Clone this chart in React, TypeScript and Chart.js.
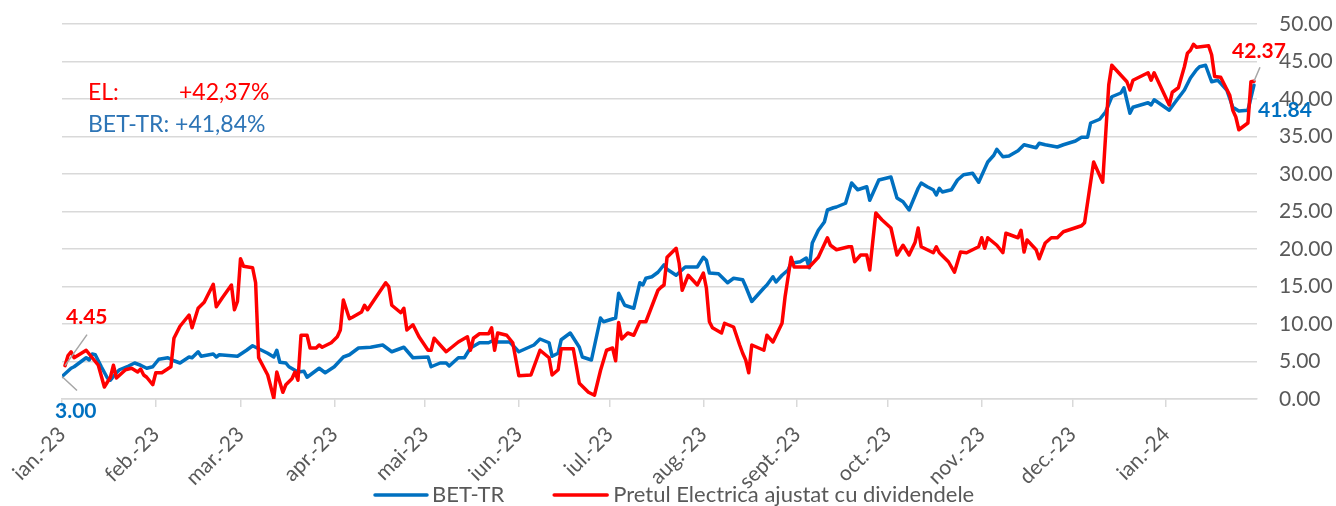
import React, { useEffect, useRef } from "react";
import { Chart, registerables } from "chart.js";

Chart.register(...registerables);

// x values are days since 1 Jan 2023
const monthLabels = ["ian.-23", "feb.-23", "mar.-23", "apr.-23", "mai-23", "iun.-23", "iul.-23", "aug.-23", "sept.-23", "oct.-23", "nov.-23", "dec.-23", "ian.-24"];
const monthStartDays = [0, 31, 59, 90, 120, 151, 181, 212, 243, 273, 304, 334, 365];
const axisEndDay = 395;
const yTickValues = [0, 5, 10, 15, 20, 25, 30, 35, 40, 45, 50];

const betDays = [0, 3, 4, 6, 8, 9, 10, 11, 13, 15, 16, 18, 19, 22, 24, 26, 28, 30, 32, 35, 37, 39, 42, 43, 45, 46, 50, 51, 52, 58, 61, 63, 65, 66, 68, 70, 71, 72, 74, 75, 78, 80, 81, 83, 85, 87, 90, 93, 95, 98, 102, 106, 109, 113, 116, 121, 122, 125, 127, 128, 131, 133, 135, 138, 141, 143, 144, 148, 151, 156, 158, 161, 162, 164, 165, 168, 171, 172, 175, 178, 179, 183, 184, 186, 189, 191, 192, 193, 195, 197, 199, 200, 203, 206, 210, 212, 213, 214, 217, 220, 222, 225, 226, 228, 232, 233, 235, 236, 238, 240, 241, 244, 246, 247, 248, 250, 252, 253, 255, 256, 259, 261, 263, 266, 267, 270, 274, 276, 278, 280, 283, 284, 286, 288, 289, 290, 291, 294, 296, 298, 301, 303, 306, 308, 309, 311, 313, 316, 317, 318, 322, 323, 325, 329, 331, 335, 337, 339, 340, 343, 345, 347, 350, 351, 353, 354, 359, 360, 361, 366, 368, 371, 373, 375, 376, 378, 380, 382, 383, 385, 387, 389, 392, 394];
const betValues = [3.0, 4.1, 4.3, 4.9, 5.5, 5.2, 6.0, 5.9, 4.3, 2.8, 2.5, 3.5, 3.9, 4.4, 4.8, 4.5, 4.1, 4.3, 5.3, 5.5, 5.1, 4.8, 5.6, 5.5, 6.3, 5.7, 6.0, 5.6, 5.9, 5.7, 6.5, 7.1, 6.7, 6.5, 6.1, 5.6, 6.5, 4.9, 4.8, 4.3, 3.6, 3.7, 2.9, 3.5, 4.1, 3.5, 4.3, 5.6, 5.9, 6.8, 6.9, 7.2, 6.3, 6.9, 5.5, 5.6, 4.3, 4.8, 4.8, 4.4, 5.5, 5.5, 6.8, 7.5, 7.5, 7.9, 7.6, 7.6, 6.3, 7.2, 8.0, 7.5, 5.7, 6.1, 7.9, 8.8, 6.9, 5.6, 5.2, 10.8, 10.3, 10.8, 14.1, 12.5, 12.1, 15.5, 15.2, 16.1, 16.3, 16.9, 17.9, 17.3, 16.5, 17.6, 17.6, 18.9, 18.5, 16.8, 16.7, 15.5, 16.1, 15.9, 15.0, 13.0, 14.8, 15.2, 16.3, 15.6, 16.5, 17.2, 18.1, 18.3, 18.8, 17.5, 20.8, 22.5, 23.6, 25.2, 25.5, 25.6, 26.1, 28.8, 27.9, 28.3, 26.5, 29.2, 29.6, 26.8, 26.3, 25.2, 28.1, 28.8, 28.3, 27.9, 27.2, 28.1, 27.6, 27.9, 29.2, 29.9, 30.1, 28.9, 31.6, 32.5, 33.3, 32.3, 32.4, 33.1, 33.5, 33.9, 33.5, 34.1, 33.9, 33.6, 33.9, 34.4, 34.9, 34.9, 36.8, 37.3, 38.3, 40.3, 40.8, 41.5, 38.1, 38.9, 39.5, 39.2, 39.9, 38.5, 39.6, 41.2, 42.8, 43.9, 44.3, 44.5, 42.3, 42.5, 42.1, 41.2, 38.9, 38.4, 38.5, 41.84];

const elDays = [1, 2, 3, 4, 8, 10, 12, 14, 16, 17, 18, 21, 23, 25, 26, 27, 28, 30, 31, 33, 36, 37, 39, 42, 43, 45, 47, 50, 51, 53, 56, 57, 58, 59, 60, 63, 64, 65, 68, 70, 71, 73, 74, 76, 77, 78, 79, 81, 82, 84, 85, 86, 89, 91, 92, 93, 95, 96, 99, 100, 101, 107, 108, 109, 112, 113, 114, 116, 118, 121, 122, 123, 127, 131, 134, 135, 136, 138, 141, 142, 143, 144, 147, 149, 151, 155, 158, 161, 162, 164, 165, 169, 171, 174, 176, 178, 180, 182, 183, 184, 185, 187, 189, 191, 193, 197, 198, 199, 200, 203, 204, 205, 207, 210, 212, 213, 214, 215, 218, 219, 222, 224, 225, 226, 227, 228, 232, 233, 235, 238, 239, 241, 242, 247, 250, 253, 254, 256, 260, 261, 262, 264, 266, 267, 269, 271, 274, 276, 278, 280, 282, 283, 284, 288, 289, 290, 293, 295, 297, 299, 303, 304, 305, 306, 309, 311, 312, 316, 317, 318, 319, 322, 323, 325, 327, 329, 331, 337, 338, 341, 344, 346, 347, 352, 353, 354, 359, 360, 361, 366, 367, 369, 371, 372, 373, 374, 375, 379, 380, 381, 383, 386, 387, 388, 389, 392, 393, 394];
const elValues = [4.45, 5.8, 6.3, 5.5, 6.5, 5.5, 4.5, 1.6, 2.9, 4.5, 2.8, 3.9, 4.1, 3.6, 4.0, 3.2, 2.9, 1.9, 3.5, 3.5, 4.3, 8.1, 9.7, 11.2, 9.5, 12.1, 12.9, 15.3, 12.3, 13.5, 15.2, 11.9, 13.0, 18.7, 17.7, 17.5, 15.5, 5.5, 3.2, 0.1, 3.6, 0.9, 1.9, 2.7, 3.6, 2.5, 8.5, 8.5, 6.8, 6.8, 7.2, 6.9, 7.5, 8.3, 9.2, 13.2, 10.7, 10.9, 11.6, 12.5, 11.9, 15.5, 15.0, 12.5, 11.5, 12.1, 9.2, 9.9, 8.3, 6.5, 6.5, 8.1, 6.3, 7.6, 8.3, 6.5, 8.1, 8.7, 8.7, 9.5, 6.5, 8.8, 8.5, 7.5, 3.1, 3.2, 6.5, 5.5, 3.2, 3.9, 6.7, 6.7, 2.1, 0.9, 0.5, 3.8, 6.5, 6.8, 5.1, 10.2, 8.0, 8.8, 8.5, 10.3, 10.3, 14.5, 14.9, 15.2, 18.9, 20.1, 18.1, 14.5, 16.5, 15.2, 16.8, 14.8, 10.3, 9.5, 8.8, 10.1, 9.6, 7.2, 6.1, 5.2, 3.5, 7.2, 6.5, 8.5, 7.6, 10.1, 13.6, 18.9, 17.6, 17.6, 18.9, 21.5, 20.5, 19.9, 20.3, 20.3, 18.3, 19.2, 19.2, 17.2, 24.8, 23.9, 22.8, 19.2, 20.5, 19.2, 20.9, 22.8, 20.3, 19.5, 20.3, 19.5, 18.3, 16.9, 19.6, 19.5, 20.3, 21.5, 20.1, 21.5, 20.5, 19.5, 22.1, 21.5, 22.5, 19.6, 21.2, 19.9, 18.7, 20.8, 21.5, 21.5, 22.3, 23.1, 23.5, 31.6, 28.9, 41.9, 44.5, 42.3, 41.2, 42.5, 43.5, 42.5, 43.5, 39.2, 40.9, 41.5, 44.3, 46.1, 46.5, 47.3, 46.9, 47.1, 45.9, 43.0, 42.9, 40.5, 38.5, 37.6, 35.9, 36.8, 42.3, 42.37];

const betLabel = "BET-TR";
const elLabel = "Pretul Electrica ajustat cu dividendele";
const elChangeText = "+42,37%";
const betChangeText = "+41,84%";

const BLUE = "#0070C0";
const RED = "#FF0000";
const GREY_TEXT = "#595959";
const GRID = "#D9D9D9";
const FONT = "Lato, 'Open Sans', sans-serif";

const overlayPlugin = {
  id: "overlay",
  afterDatasetsDraw(chart: any) {
    const { ctx, scales } = chart;
    const xs = scales.x;
    const ys = scales.y;
    ctx.save();

    const elStartX = xs.getPixelForValue(elDays[0]);
    const elStartY = ys.getPixelForValue(elValues[0]);
    const betStartX = xs.getPixelForValue(betDays[0]);
    const betStartY = ys.getPixelForValue(betValues[0]);
    const elEndX = xs.getPixelForValue(elDays[elDays.length - 1]);
    const elEndY = ys.getPixelForValue(elValues[elValues.length - 1]);
    const betEndX = xs.getPixelForValue(betDays[betDays.length - 1]);
    const betEndY = ys.getPixelForValue(betValues[betValues.length - 1]);

    // leader lines
    ctx.strokeStyle = "#A6A6A6";
    ctx.lineWidth = 1.5;
    ctx.beginPath();
    ctx.moveTo(elStartX, elStartY);
    ctx.lineTo(elStartX + 22, elStartY - 31);
    ctx.moveTo(betStartX, betStartY);
    ctx.lineTo(betStartX + 15, betStartY + 14);
    ctx.moveTo(elEndX, elEndY);
    ctx.lineTo(elEndX + 6, elEndY - 14);
    ctx.stroke();

    // value labels
    ctx.font = `bold 21px ${FONT}`;
    ctx.textBaseline = "middle";
    ctx.textAlign = "left";
    ctx.fillStyle = RED;
    ctx.fillText(elValues[0].toFixed(2), elStartX + 1, elStartY - 48);
    ctx.fillStyle = BLUE;
    ctx.fillText(betValues[0].toFixed(2), betStartX - 7, betStartY + 35);
    ctx.textAlign = "center";
    ctx.fillStyle = RED;
    ctx.fillText(elValues[elValues.length - 1].toFixed(2), elEndX + 5, elEndY - 30);
    ctx.fillStyle = BLUE;
    ctx.fillText(betValues[betValues.length - 1].toFixed(2), betEndX + 31, betEndY + 25);

    // performance text box
    ctx.font = `23px ${FONT}`;
    ctx.textAlign = "left";
    ctx.fillStyle = RED;
    ctx.fillText("EL:", 88, 93);
    ctx.fillText(elChangeText, 179, 93);
    ctx.fillStyle = "#2E75B6";
    ctx.fillText(`${betLabel}: ${betChangeText}`, 88, 125);

    // legend
    ctx.font = `22px ${FONT}`;
    const ly = 495;
    let lx = 375;
    ctx.lineWidth = 3.5;
    ctx.lineCap = "round";
    ctx.strokeStyle = BLUE;
    ctx.beginPath();
    ctx.moveTo(lx, ly);
    ctx.lineTo(lx + 52, ly);
    ctx.stroke();
    lx += 57;
    ctx.fillStyle = GREY_TEXT;
    ctx.fillText(betLabel, lx, ly);
    lx += ctx.measureText(betLabel).width + 50;
    ctx.strokeStyle = RED;
    ctx.beginPath();
    ctx.moveTo(lx, ly);
    ctx.lineTo(lx + 53, ly);
    ctx.stroke();
    lx += 59;
    ctx.fillText(elLabel, lx, ly);

    ctx.restore();
  },
};

export default function App() {
  const canvasRef = useRef<HTMLCanvasElement | null>(null);

  useEffect(() => {
    if (!canvasRef.current) return;
    Chart.defaults.font.family = FONT;
    const chart = new Chart(canvasRef.current, {
      type: "line",
      data: {
        datasets: [
          {
            label: betLabel,
            data: betDays.map((d, i) => ({ x: d, y: betValues[i] })),
            borderColor: BLUE,
            backgroundColor: BLUE,
            borderWidth: 3.5,
            pointRadius: 0,
            tension: 0,
            borderJoinStyle: "round",
            borderCapStyle: "round",
            order: 2,
          },
          {
            label: elLabel,
            data: elDays.map((d, i) => ({ x: d, y: elValues[i] })),
            borderColor: RED,
            backgroundColor: RED,
            borderWidth: 3.5,
            pointRadius: 0,
            tension: 0,
            borderJoinStyle: "round",
            borderCapStyle: "round",
            order: 1,
          },
        ],
      },
      options: {
        responsive: false,
        animation: false,
        devicePixelRatio: 1,
        layout: { padding: { left: 62, top: 24, right: 0, bottom: 0 } },
        plugins: {
          legend: { display: false },
          tooltip: { enabled: false },
        },
        scales: {
          x: {
            type: "linear",
            min: 0,
            max: axisEndDay,
            afterBuildTicks: (scale: any) => {
              scale.ticks = monthStartDays.map((v) => ({ value: v }));
            },
            afterFit: (scale: any) => {
              scale.height = 107;
            },
            ticks: {
              autoSkip: false,
              maxRotation: 45,
              minRotation: 45,
              color: GREY_TEXT,
              font: { family: FONT, size: 21 },
              padding: 15,
              callback: (_v: any, i: number) => monthLabels[i],
            },
            grid: {
              drawOnChartArea: false,
              drawTicks: true,
              tickLength: 8,
              color: GRID,
              lineWidth: 1.5,
            },
            border: { display: true, color: GRID, width: 1.5 },
          },
          y: {
            type: "linear",
            position: "right",
            min: 0,
            max: 50,
            afterBuildTicks: (scale: any) => {
              scale.ticks = yTickValues.map((v) => ({ value: v }));
            },
            afterFit: (scale: any) => {
              scale.width = 79;
            },
            ticks: {
              color: GREY_TEXT,
              font: { family: FONT, size: 21 },
              padding: 0,
              callback: (v: any) => Number(v).toFixed(2),
            },
            grid: {
              color: GRID,
              lineWidth: 1.5,
              drawTicks: true,
              tickLength: 22,
              tickColor: "rgba(0,0,0,0)",
            },
            border: { display: false },
          },
        },
      },
      plugins: [overlayPlugin],
    });
    return () => chart.destroy();
  }, []);

  return (
    <div style={{ position: "absolute", left: 0, top: 0, width: 1336, height: 506 }}>
      <canvas ref={canvasRef} width={1336} height={506} style={{ display: "block" }} />
    </div>
  );
}
